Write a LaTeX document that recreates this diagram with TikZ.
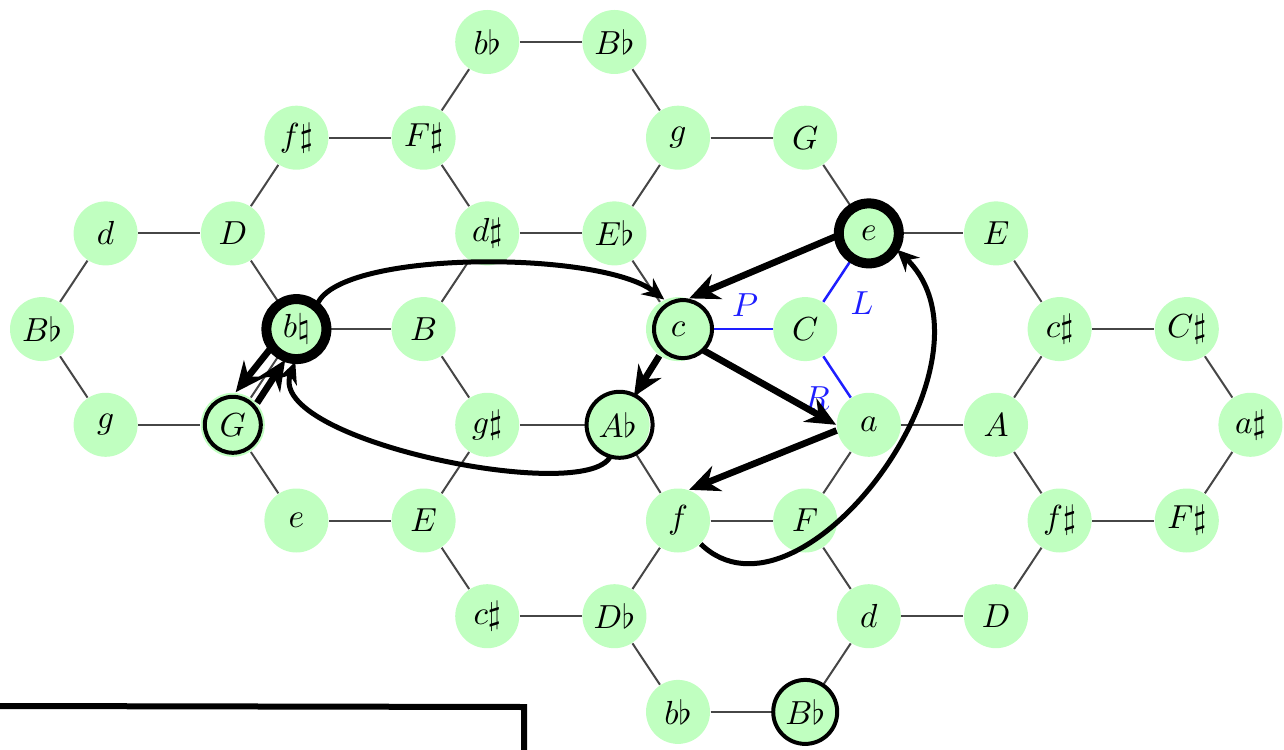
\documentclass[tikz,border=0pt]{standalone}
\usetikzlibrary{arrows.meta}
\definecolor{notegreen}{RGB}{192,255,192}
\definecolor{edgegray}{RGB}{70,70,70}
\definecolor{plrblue}{RGB}{30,30,255}
\begin{document}
\begin{tikzpicture}[x=0.3pt,y=-0.3pt,
  note/.style={circle,fill=notegreen,minimum size=19.2pt,inner sep=0pt,font=\normalsize},
  lattice/.style={draw=edgegray,line width=0.6pt},
  plr/.style={draw=plrblue,line width=0.75pt},
  plrlabel/.style={text=plrblue,font=\normalsize},
  ring/.style={draw=black,line width=1.2pt},
  thickring/.style={draw=black,line width=3pt},
  movearrow/.style={draw=black,line width=2pt,-{Stealth[length=9pt,width=8pt]}},
  curvearrow/.style={draw=black,line width=1.5pt,-{Stealth[length=6.5pt,width=6pt]}},
  frameline/.style={draw=black,line width=1.8pt}]
\useasboundingbox (0,0) rectangle (1284,749);
% nodes: row/column/name/label
\foreach \r/\k/\n/\l in {
  0/7/bb0/b\flat, 0/9/Bb0/B\flat,
  1/4/fs1/f\sharp, 1/6/Fs1/F\sharp, 1/10/g1/g, 1/12/G1/G,
  2/1/d2/d, 2/3/D2/D, 2/7/ds2/d\sharp, 2/9/Eb2/E\flat, 2/13/e2/e, 2/15/E2/E,
  3/0/Bb3/B\flat, 3/4/bn3/b\natural, 3/6/B3/B, 3/10/c3/c, 3/12/C3/C, 3/16/cs3/c\sharp, 3/18/Cs3/C\sharp,
  4/1/g4/g, 4/3/G4/G, 4/7/gs4/g\sharp, 4/9.05/Ab4/A\flat, 4/13/a4/a, 4/15/A4/A, 4/19/as4/a\sharp,
  5/4/e5/e, 5/6/E5/E, 5/10/f5/f, 5/12/F5/F, 5/16/fs5/f\sharp, 5/18/Fs5/F\sharp,
  6/7/cs6/c\sharp, 6/9/Db6/D\flat, 6/13/d6/d, 6/15/D6/D,
  7/10/bb7/b\flat, 7/12/Bb7/B\flat}
  \node[note] (\n) at ({42+63.6*\k},{42+95.7*\r}) {$\l$};
% lattice edges
\foreach \a/\b in {bb0/Bb0, fs1/Fs1, g1/G1, d2/D2, ds2/Eb2, e2/E2,
  bn3/B3, cs3/Cs3, g4/G4, gs4/Ab4, a4/A4, e5/E5, f5/F5, fs5/Fs5,
  cs6/Db6, d6/D6, bb7/Bb7,
  bb0/Fs1, Bb0/g1, fs1/D2, Fs1/ds2, g1/Eb2, G1/e2, d2/Bb3, D2/bn3,
  ds2/B3, Eb2/c3, E2/cs3, Bb3/g4, bn3/G4, B3/gs4, c3/Ab4, cs3/A4,
  Cs3/as4, G4/e5, gs4/E5, Ab4/f5, a4/F5, A4/fs5, as4/Fs5, E5/cs6,
  f5/Db6, F5/d6, fs5/D6, Db6/bb7, d6/Bb7}
  \draw[lattice] (\a) -- (\b);
% P, L, R transformations
\draw[plr] (c3) -- (C3);
\draw[plr] (C3) -- (e2);
\draw[plr] (C3) -- (a4);
\node[plrlabel] (labP) at (745,305) {$P$};
\node[plrlabel] (labL) at (862,303) {$L$};
\node[plrlabel] (labR) at (817,398) {$R$};
% highlighted chords
\draw[thickring] (bn3.center) circle[radius=30];
\draw[thickring] (e2.center) circle[radius=30];
\draw[ring] ([xshift=1.5pt]c3.center) circle[radius=29];
\draw[ring] (G4.center) circle[radius=28];
\draw[ring] ([xshift=0.6pt]Ab4.center) circle[radius=33];
\draw[ring] (Bb7.center) circle[radius=32];
% straight moves
\draw[movearrow] (e2.185) -- (c3.70);
\draw[movearrow] (c3.-40) -- (a4.west);
\draw[movearrow] (a4.190) -- (f5.70);
\draw[movearrow] (c3.235) -- (Ab4.60);
\draw[movearrow] (bn3.217) -- (G4.85);
\draw[movearrow] (G4.42) -- (bn3.250);
% curved moves
\draw[curvearrow] (bn3.50) .. controls (340,250) and (600,250) .. (c3.115);
\draw[curvearrow] (Ab4.257) .. controls (585,505) and (265,440) .. (bn3.268);
\draw[curvearrow] (f5.-46) .. controls (800,640) and (1010,360) .. (e2.-30);
% frame at the bottom left
\coordinate (frameA) at (0,706);
\coordinate (frameB) at (524,707);
\coordinate (frameC) at (524,760);
\draw[frameline] (frameA) -- (frameB) -- (frameC);
\end{tikzpicture}
\end{document}
